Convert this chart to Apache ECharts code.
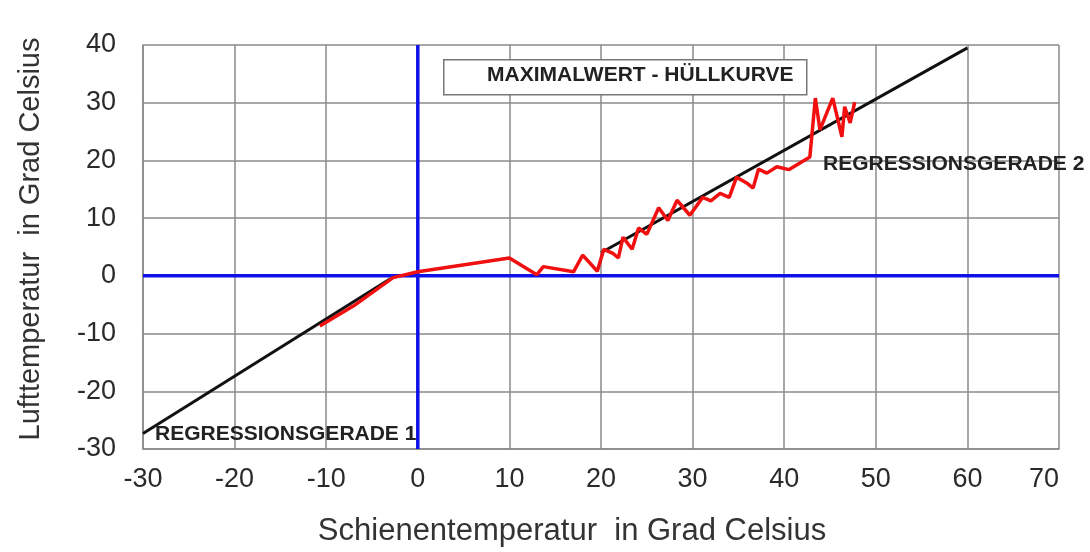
<!DOCTYPE html>
<html>
<head>
<meta charset="utf-8">
<script src="https://cdn.jsdelivr.net/npm/echarts@6/dist/echarts.min.js"></script>
<style>
  html, body { margin: 0; padding: 0; background: #fff; }
  #main { width: 1090px; height: 552px; }
</style>
</head>
<body>
<div id="main"></div>
<script type="text/javascript">
// Hüllkurve (Maximalwerte)
var huellkurve = [
  [-10.7, -8.7], [-7, -5.2], [-2.7, -0.3], [0, 0.7], [10, 3.1], [13, 0.2], [13.7, 1.6],
  [17, 0.7], [18, 3.6], [19.6, 0.8], [20.3, 4.6], [21.3, 3.9], [21.9, 3.1], [22.4, 6.7],
  [23.4, 4.6], [24.1, 8.3], [25, 7.2], [26.3, 11.8], [27.3, 9.6], [28.3, 13.1], [29.7, 10.5],
  [31.1, 13.6], [32, 13.0], [33, 14.3], [34, 13.6], [34.8, 17.1], [35.9, 16.1], [36.6, 15.2],
  [37.2, 18.5], [38.1, 17.8], [39.2, 18.9], [40.5, 18.4], [42.8, 20.6], [43.4, 30.8],
  [43.9, 25.3], [45.3, 30.8], [46.3, 24.1], [46.6, 29.3], [47.2, 26.5], [47.7, 30.1]
];
// Regressionsgeraden
var gerade1 = [[-30, -27.3], [-3, -0.5]];
var gerade2 = [[20, 4], [60, 39.5]];
// Achsenkreuz
var nullX = [[0, -30], [0, 40]];
var nullY = [[-30, 0], [70, 0]];

var xMin = -30, xMax = 70, yMin = -30, yMax = 40, step = 10;

var chart = echarts.init(document.getElementById('main'));
var fnt = '"Liberation Sans", Arial, sans-serif';
var gridStyle = { color: '#8a8a8a', width: 1.5 };

function lineSeries(data, color, width, z) {
  return {
    type: 'line', data: data, symbol: 'none', silent: true, z: z,
    lineStyle: { color: color, width: width }
  };
}

var option = {
  animation: false,
  backgroundColor: '#fff',
  grid: { left: 143, top: 45, right: 31, bottom: 103 },
  xAxis: {
    type: 'value', min: xMin, max: xMax, interval: step,
    name: 'Schienentemperatur  in Grad Celsius', nameLocation: 'middle', nameGap: 67,
    nameTextStyle: { fontFamily: fnt, fontSize: 31, color: '#333', padding: [0, 58, 0, 0] },
    axisLine: { show: true, onZero: false, lineStyle: gridStyle },
    axisTick: { show: false },
    axisLabel: { fontFamily: fnt, fontSize: 27, color: '#2a2a2a', margin: 17, alignMaxLabel: 'right' },
    splitLine: { show: true, lineStyle: gridStyle }
  },
  yAxis: {
    type: 'value', min: yMin, max: yMax, interval: step,
    name: 'Lufttemperatur  in Grad Celsius', nameLocation: 'middle', nameGap: 98,
    nameTextStyle: { fontFamily: fnt, fontSize: 29, color: '#333', padding: [0, 0, 0, 16] },
    axisLine: { show: true, onZero: false, lineStyle: gridStyle },
    axisTick: { show: false },
    axisLabel: { fontFamily: fnt, fontSize: 27, color: '#2a2a2a', margin: 27 },
    splitLine: { show: true, lineStyle: gridStyle }
  },
  series: [
    lineSeries(nullX, '#1010e8', 3.5, 2),
    lineSeries(nullY, '#1010e8', 3.5, 2),
    lineSeries(gerade1, '#111', 3, 3),
    lineSeries(gerade2, '#111', 3, 3),
    lineSeries(huellkurve, '#f01010', 3.5, 4)
  ],
  graphic: [
    {
      type: 'rect', left: 443, top: 59, z: 10,
      shape: { width: 363, height: 35 },
      style: { fill: '#fff', stroke: '#777', lineWidth: 1.5 }
    },
    {
      type: 'text', left: 487, top: 65, z: 11,
      style: { text: 'MAXIMALWERT - HÜLLKURVE', fill: '#222', font: 'bold 21px ' + fnt }
    },
    {
      type: 'text', left: 823, top: 154, z: 11,
      style: { text: 'REGRESSIONSGERADE 2', fill: '#222', font: 'bold 21px ' + fnt }
    },
    {
      type: 'text', left: 155, top: 424, z: 11,
      style: { text: 'REGRESSIONSGERADE 1', fill: '#222', font: 'bold 21px ' + fnt }
    }
  ]
};
chart.setOption(option);
</script>
</body>
</html>
